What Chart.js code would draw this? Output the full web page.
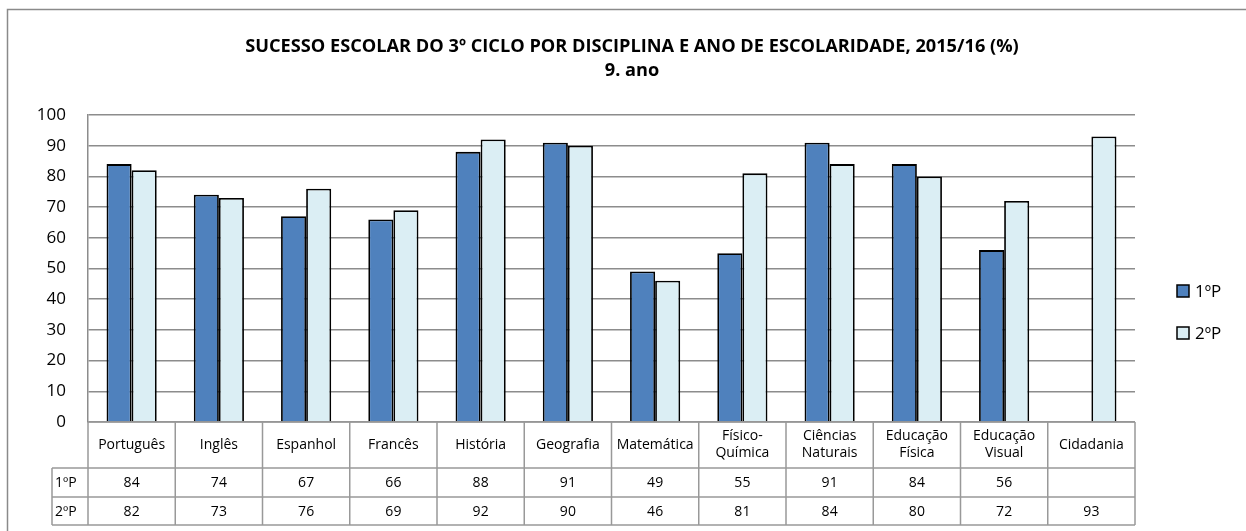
<!DOCTYPE html>
<html>
<head>
<meta charset="utf-8">
<script src="https://cdn.jsdelivr.net/npm/chart.js@4.4.1/dist/chart.umd.min.js"></script>
<style>
    html, body { margin: 0; padding: 0; background: #fff; }
    canvas { display: block; }
</style>
</head>
<body>
<canvas id="successChart" width="1246" height="531"></canvas>
<script>
// Chart data
const categories = [
    ['Português'], ['Inglês'], ['Espanhol'], ['Francês'], ['História'], ['Geografia'],
    ['Matemática'], ['Físico-', 'Química'], ['Ciências', 'Naturais'], ['Educação', 'Física'],
    ['Educação', 'Visual'], ['Cidadania']
];
const seriesNames = ['1ºP', '2ºP'];
const values1P = [84, 74, 67, 66, 88, 91, 49, 55, 91, 84, 56, null];
const values2P = [82, 73, 76, 69, 92, 90, 46, 81, 84, 80, 72, 93];
const yTicks = [0, 10, 20, 30, 40, 50, 60, 70, 80, 90, 100];
const titleLines = ['SUCESSO ESCOLAR DO 3º CICLO POR DISCIPLINA E ANO DE ESCOLARIDADE, 2015/16 (%)', '9. ano'];

const colors = {
    dark: '#4F81BD',
    light: '#DBEEF4',
    grid: '#8c8c8c',
    table: '#999999'
};
const FONT = '"Open Sans", "Noto Sans", sans-serif';

// Frame, title, legend and data table
const decorPlugin = {
    id: 'decor',
    afterDraw(chart) {
        const ctx = chart.ctx;
        const area = chart.chartArea;
        const x = chart.scales.x;
        const n = categories.length;
        const colW = (area.right - area.left) / n;

        ctx.save();
        // outer frame
        ctx.strokeStyle = '#8a8a8a';
        ctx.lineWidth = 1.5;
        ctx.strokeRect(7.5, 9.5, 1400, 700);

        // title
        ctx.fillStyle = '#000';
        ctx.textAlign = 'center';
        ctx.textBaseline = 'middle';
        ctx.font = 'bold 18.2px ' + FONT;
        ctx.fillText(titleLines[0], 632, 47);
        ctx.fillText(titleLines[1], 632, 71);

        // legend
        const legendRows = [
            { label: seriesNames[0], color: colors.dark, y: 291 },
            { label: seriesNames[1], color: colors.light, y: 333 }
        ];
        ctx.font = '17px ' + FONT;
        ctx.textAlign = 'left';
        legendRows.forEach(r => {
            ctx.fillStyle = r.color;
            ctx.fillRect(1177, r.y - 6, 12, 12);
            ctx.strokeStyle = '#000';
            ctx.lineWidth = 1.5;
            ctx.strokeRect(1177, r.y - 6, 12, 12);
            ctx.fillStyle = '#000';
            ctx.fillText(r.label, 1195, r.y + 1);
        });

        // data table
        const top = area.bottom;
        const row1 = top + 46;
        const row2 = row1 + 29;
        const bottom = row2 + 28;
        const labelLeft = 52;
        ctx.strokeStyle = colors.table;
        ctx.lineWidth = 1.5;
        ctx.beginPath();
        // horizontal lines
        ctx.moveTo(area.left, top); ctx.lineTo(area.right, top);
        [row1, row2, bottom].forEach(yy => {
            ctx.moveTo(labelLeft, yy); ctx.lineTo(area.right, yy);
        });
        // vertical lines
        ctx.moveTo(labelLeft, row1); ctx.lineTo(labelLeft, bottom);
        for (let i = 0; i <= n; i++) {
            const xx = area.left + i * colW;
            ctx.moveTo(xx, top); ctx.lineTo(xx, bottom);
        }
        ctx.stroke();

        ctx.fillStyle = '#000';
        ctx.font = '14px ' + FONT;
        ctx.textAlign = 'center';
        categories.forEach((lines, i) => {
            const cx = x.getPixelForValue(i);
            const mid = (top + row1) / 2;
            lines.forEach((t, k) => {
                ctx.fillText(t, cx, mid + (k - (lines.length - 1) / 2) * 17);
            });
            const a = values1P[i], b = values2P[i];
            if (a !== null) ctx.fillText(String(a), cx, (row1 + row2) / 2 + 1);
            if (b !== null) ctx.fillText(String(b), cx, (row2 + bottom) / 2 + 1);
        });
        ctx.textAlign = 'left';
        ctx.fillText(seriesNames[0], 55, (row1 + row2) / 2 + 1);
        ctx.fillText(seriesNames[1], 55, (row2 + bottom) / 2 + 1);
        ctx.restore();
    }
};

const ctx = document.getElementById('successChart').getContext('2d');
new Chart(ctx, {
    type: 'bar',
    data: {
        labels: categories.map(c => c.join(' ')),
        datasets: [{
            label: seriesNames[0],
            data: values1P,
            backgroundColor: colors.dark,
            borderColor: '#000',
            borderWidth: 1.8,
            categoryPercentage: 0.575,
            barPercentage: 1.0
        }, {
            label: seriesNames[1],
            data: values2P,
            backgroundColor: colors.light,
            borderColor: '#000',
            borderWidth: 1.8,
            categoryPercentage: 0.575,
            barPercentage: 1.0
        }]
    },
    options: {
        responsive: false,
        animation: false,
        layout: {
            padding: { left: 0, right: 111, top: 115, bottom: 109 }
        },
        plugins: {
            legend: { display: false },
            title: { display: false },
            tooltip: { enabled: false }
        },
        scales: {
            x: {
                display: false
            },
            y: {
                min: 0,
                max: 100,
                afterBuildTicks: (scale) => {
                    scale.ticks = yTicks.map(v => ({ value: v }));
                },
                afterFit: (scale) => { scale.width = 88; },
                grid: { color: colors.grid, lineWidth: 1.5, drawTicks: false },
                border: { display: true, color: colors.grid, width: 1.5 },
                ticks: {
                    color: '#000',
                    padding: 22,
                    font: { family: FONT, size: 17 }
                }
            }
        }
    },
    plugins: [decorPlugin]
});
</script>
</body>
</html>
